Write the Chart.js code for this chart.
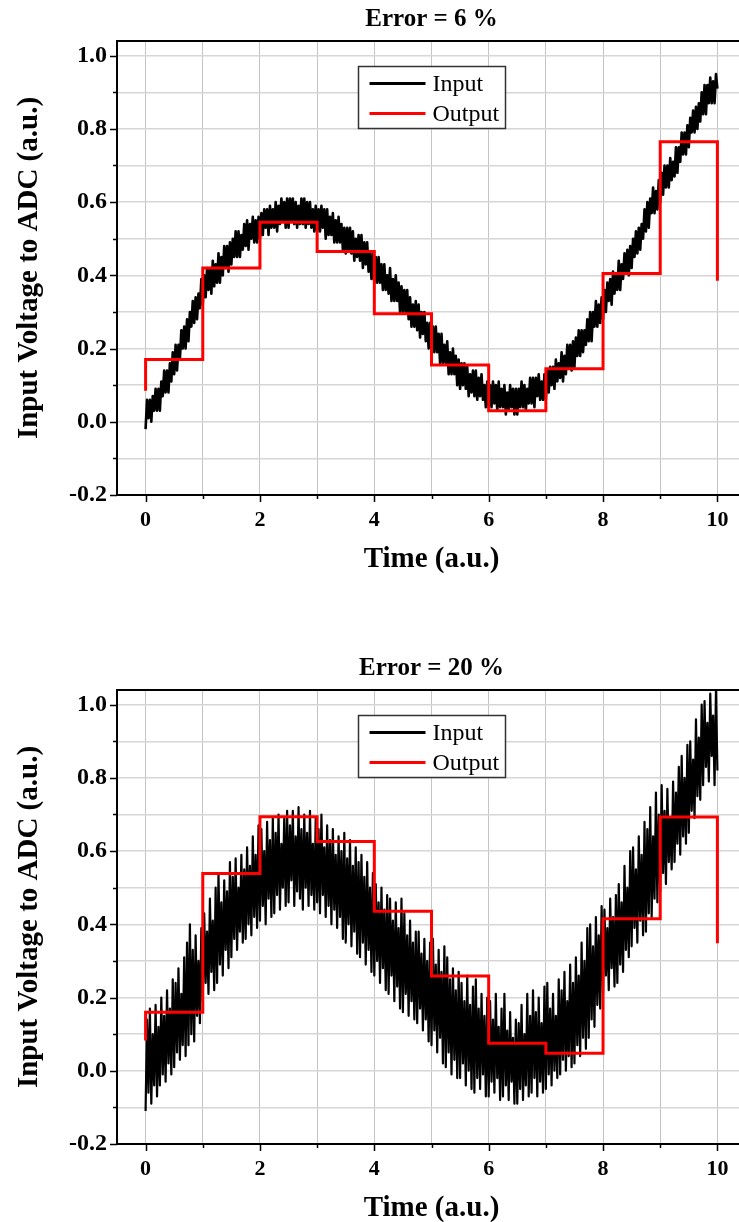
<!DOCTYPE html>
<html>
<head>
<meta charset="utf-8">
<script src="https://cdn.jsdelivr.net/npm/chart.js@4.4.1/dist/chart.umd.min.js"></script>
<style>
html, body { margin: 0; padding: 0; background: #fff; overflow: hidden; }
#page { position: relative; width: 739px; height: 1222px; overflow: hidden; }
.plot { position: absolute; left: 0; }
</style>
</head>
<body>
<div id="page">
  <canvas id="chartLow" class="plot" width="770" height="600" style="top:0"></canvas>
  <canvas id="chartHigh" class="plot" width="770" height="600" style="top:649px"></canvas>
</div>
<script>
// both inputs are sampled every 0.025 time units from 0 to 10
const sampleStep = 0.025;

// ADC input at 6 % error
const inputLow = [
  -0.02, 0.06, 0.01, 0.06, 0.00, 0.07, 0.03, 0.09, 0.03, 0.09,
  0.03, 0.11, 0.07, 0.14, 0.08, 0.14, 0.08, 0.16, 0.11, 0.19,
  0.13, 0.21, 0.14, 0.21, 0.17, 0.25, 0.20, 0.26, 0.20, 0.28,
  0.22, 0.30, 0.26, 0.33, 0.27, 0.34, 0.28, 0.35, 0.31, 0.39,
  0.32, 0.40, 0.34, 0.42, 0.36, 0.42, 0.35, 0.44, 0.37, 0.43,
  0.38, 0.46, 0.38, 0.45, 0.40, 0.48, 0.42, 0.48, 0.41, 0.49,
  0.43, 0.50, 0.45, 0.52, 0.45, 0.52, 0.45, 0.51, 0.47, 0.54,
  0.48, 0.55, 0.47, 0.54, 0.50, 0.56, 0.49, 0.55, 0.49, 0.56,
  0.50, 0.57, 0.51, 0.58, 0.53, 0.58, 0.51, 0.59, 0.53, 0.58,
  0.53, 0.60, 0.52, 0.59, 0.54, 0.61, 0.55, 0.60, 0.53, 0.61,
  0.53, 0.61, 0.55, 0.61, 0.54, 0.60, 0.53, 0.59, 0.54, 0.61,
  0.54, 0.61, 0.53, 0.60, 0.54, 0.60, 0.53, 0.58, 0.52, 0.59,
  0.52, 0.58, 0.52, 0.59, 0.53, 0.58, 0.50, 0.58, 0.51, 0.56,
  0.51, 0.57, 0.49, 0.55, 0.49, 0.56, 0.49, 0.54, 0.47, 0.53,
  0.46, 0.53, 0.47, 0.53, 0.46, 0.52, 0.44, 0.50, 0.45, 0.51,
  0.44, 0.51, 0.42, 0.49, 0.43, 0.49, 0.41, 0.46, 0.39, 0.46,
  0.38, 0.45, 0.38, 0.45, 0.38, 0.43, 0.36, 0.43, 0.36, 0.40,
  0.35, 0.42, 0.33, 0.39, 0.33, 0.40, 0.33, 0.38, 0.30, 0.37,
  0.30, 0.36, 0.30, 0.36, 0.28, 0.34, 0.26, 0.32, 0.26, 0.33,
  0.25, 0.32, 0.23, 0.30, 0.24, 0.30, 0.22, 0.27, 0.20, 0.27,
  0.19, 0.26, 0.19, 0.26, 0.19, 0.24, 0.16, 0.24, 0.16, 0.21,
  0.16, 0.22, 0.13, 0.19, 0.13, 0.20, 0.13, 0.18, 0.10, 0.17,
  0.09, 0.16, 0.10, 0.16, 0.09, 0.15, 0.07, 0.13, 0.08, 0.14,
  0.07, 0.14, 0.06, 0.12, 0.07, 0.13, 0.06, 0.10, 0.04, 0.11,
  0.04, 0.10, 0.04, 0.11, 0.05, 0.10, 0.03, 0.11, 0.04, 0.09,
  0.04, 0.10, 0.02, 0.08, 0.03, 0.10, 0.04, 0.09, 0.02, 0.09,
  0.02, 0.09, 0.04, 0.11, 0.04, 0.10, 0.03, 0.09, 0.05, 0.12,
  0.05, 0.12, 0.04, 0.12, 0.07, 0.13, 0.06, 0.11, 0.06, 0.13,
  0.06, 0.14, 0.08, 0.15, 0.10, 0.15, 0.09, 0.17, 0.11, 0.16,
  0.12, 0.19, 0.11, 0.18, 0.13, 0.21, 0.15, 0.21, 0.14, 0.22,
  0.15, 0.23, 0.18, 0.25, 0.18, 0.25, 0.19, 0.25, 0.21, 0.28,
  0.22, 0.30, 0.22, 0.30, 0.26, 0.33, 0.26, 0.32, 0.27, 0.34,
  0.28, 0.36, 0.30, 0.38, 0.33, 0.39, 0.32, 0.41, 0.35, 0.40,
  0.36, 0.44, 0.36, 0.43, 0.39, 0.46, 0.41, 0.47, 0.40, 0.48,
  0.42, 0.50, 0.45, 0.52, 0.46, 0.53, 0.47, 0.54, 0.50, 0.58,
  0.52, 0.60, 0.53, 0.61, 0.57, 0.64, 0.57, 0.63, 0.58, 0.66,
  0.60, 0.68, 0.62, 0.70, 0.64, 0.70, 0.64, 0.72, 0.66, 0.71,
  0.67, 0.75, 0.68, 0.75, 0.71, 0.79, 0.73, 0.79, 0.73, 0.81,
  0.75, 0.83, 0.79, 0.85, 0.79, 0.86, 0.80, 0.87, 0.82, 0.90,
  0.84, 0.92, 0.84, 0.92, 0.87, 0.94, 0.87, 0.93, 0.87, 0.95,
  0.91
];

// ADC input at 20 % error
const inputHigh = [
  -0.11, 0.14, -0.06, 0.17, -0.09, 0.10, -0.04, 0.18, -0.07, 0.12,
  -0.04, 0.20, -0.01, 0.15, -0.03, 0.22, 0.02, 0.17, -0.01, 0.25,
  0.01, 0.24, 0.05, 0.28, 0.03, 0.21, 0.07, 0.31, 0.04, 0.35,
  0.07, 0.40, 0.10, 0.33, 0.08, 0.37, 0.15, 0.30, 0.13, 0.39,
  0.19, 0.43, 0.24, 0.38, 0.21, 0.47, 0.27, 0.41, 0.22, 0.50,
  0.24, 0.54, 0.29, 0.46, 0.26, 0.52, 0.33, 0.49, 0.28, 0.57,
  0.31, 0.53, 0.36, 0.58, 0.33, 0.50, 0.38, 0.59, 0.35, 0.55,
  0.36, 0.61, 0.40, 0.56, 0.37, 0.64, 0.42, 0.59, 0.39, 0.67,
  0.41, 0.66, 0.45, 0.60, 0.40, 0.68, 0.47, 0.63, 0.42, 0.69,
  0.43, 0.65, 0.48, 0.70, 0.44, 0.62, 0.50, 0.69, 0.45, 0.71,
  0.46, 0.67, 0.52, 0.71, 0.45, 0.64, 0.49, 0.72, 0.47, 0.66,
  0.44, 0.70, 0.50, 0.65, 0.45, 0.71, 0.48, 0.62, 0.44, 0.69,
  0.46, 0.66, 0.43, 0.70, 0.48, 0.61, 0.42, 0.67, 0.45, 0.63,
  0.40, 0.66, 0.44, 0.59, 0.39, 0.64, 0.42, 0.60, 0.36, 0.65,
  0.35, 0.58, 0.40, 0.63, 0.34, 0.56, 0.38, 0.61, 0.32, 0.57,
  0.31, 0.59, 0.35, 0.53, 0.29, 0.57, 0.33, 0.50, 0.27, 0.54,
  0.26, 0.51, 0.30, 0.46, 0.24, 0.50, 0.28, 0.44, 0.22, 0.48,
  0.21, 0.47, 0.26, 0.41, 0.19, 0.46, 0.23, 0.39, 0.17, 0.47,
  0.16, 0.43, 0.21, 0.37, 0.15, 0.41, 0.19, 0.35, 0.14, 0.38,
  0.13, 0.38, 0.17, 0.32, 0.11, 0.36, 0.14, 0.30, 0.08, 0.35,
  0.07, 0.36, 0.11, 0.29, 0.05, 0.33, 0.09, 0.27, 0.02, 0.34,
  0.01, 0.31, 0.05, 0.25, -0.01, 0.28, 0.03, 0.22, -0.02, 0.27,
  -0.02, 0.24, 0.02, 0.19, -0.04, 0.26, 0.00, 0.18, -0.05, 0.23,
  -0.06, 0.25, -0.02, 0.17, -0.05, 0.21, -0.01, 0.15, -0.07, 0.20,
  -0.07, 0.19, -0.03, 0.14, -0.06, 0.21, -0.02, 0.12, -0.08, 0.17,
  -0.07, 0.21, -0.04, 0.11, -0.08, 0.16, -0.03, 0.09, -0.09, 0.14,
  -0.09, 0.13, -0.05, 0.18, -0.08, 0.10, -0.04, 0.21, -0.07, 0.15,
  -0.06, 0.22, -0.02, 0.16, -0.07, 0.20, -0.03, 0.13, -0.06, 0.23,
  -0.05, 0.24, -0.01, 0.17, -0.04, 0.21, 0.00, 0.15, -0.02, 0.25,
  -0.01, 0.22, 0.03, 0.27, 0.00, 0.19, 0.04, 0.29, 0.01, 0.24,
  0.02, 0.31, 0.07, 0.26, 0.04, 0.35, 0.09, 0.30, 0.06, 0.39,
  0.09, 0.40, 0.14, 0.34, 0.12, 0.42, 0.18, 0.37, 0.17, 0.45,
  0.21, 0.44, 0.26, 0.39, 0.22, 0.47, 0.28, 0.42, 0.23, 0.48,
  0.24, 0.51, 0.29, 0.46, 0.27, 0.56, 0.33, 0.50, 0.31, 0.60,
  0.34, 0.61, 0.39, 0.55, 0.35, 0.64, 0.41, 0.59, 0.37, 0.68,
  0.38, 0.66, 0.43, 0.72, 0.42, 0.64, 0.47, 0.76, 0.46, 0.70,
  0.49, 0.78, 0.54, 0.71, 0.51, 0.77, 0.57, 0.69, 0.55, 0.79,
  0.57, 0.76, 0.62, 0.83, 0.59, 0.86, 0.64, 0.80, 0.62, 0.89,
  0.65, 0.90, 0.71, 0.85, 0.69, 0.96, 0.75, 0.91, 0.74, 1.00,
  0.78, 1.01, 0.83, 0.95, 0.79, 1.03, 0.86, 0.97, 0.78, 1.04,
  0.82
];

// quantized ADC output: one level per unit interval
const stepTimes = [0, 1, 2, 3, 4, 5, 6, 7, 8, 9, 10];
const outputLow = [0.17, 0.42, 0.545, 0.465, 0.295, 0.155, 0.03, 0.145, 0.405, 0.765];
const outputLowStart = 0.085;
const outputLowEnd = 0.385;
const outputHigh = [0.16, 0.539, 0.694, 0.626, 0.436, 0.259, 0.075, 0.048, 0.415, 0.693];
const outputHighStart = 0.083;
const outputHighEnd = 0.348;

const xTicks = [0, 1, 2, 3, 4, 5, 6, 7, 8, 9, 10];
const yTicks = [-0.2, -0.1, 0, 0.1, 0.2, 0.3, 0.4, 0.5, 0.6, 0.7, 0.8, 0.9, 1.0];

const serif = '"Liberation Serif", "Times New Roman", serif';

function samplePoints(values) {
  return values.map((v, i) => ({ x: +(i * sampleStep).toFixed(3), y: v }));
}

function stepPoints(levels, start, end) {
  const last = stepTimes[stepTimes.length - 1];
  const pts = [{ x: stepTimes[0], y: start }];
  levels.forEach((v, i) => pts.push({ x: stepTimes[i], y: v }));
  pts.push({ x: last, y: levels[levels.length - 1] });
  pts.push({ x: last, y: end });
  return pts;
}

const isMajorY = v => Math.abs(v * 5 - Math.round(v * 5)) < 1e-6;
const isMajorX = v => v % 2 === 0;

// top edge of the frame, outward tick marks and the boxed legend
const framePlugin = {
  id: 'framePlugin',
  afterDraw(chart) {
    const { ctx, chartArea: a } = chart;
    const x = chart.scales.x, y = chart.scales.y;
    ctx.save();
    ctx.strokeStyle = '#000';
    ctx.lineWidth = 2;
    ctx.beginPath();
    ctx.moveTo(a.left, a.top);
    ctx.lineTo(a.right, a.top);
    ctx.lineTo(a.right, a.bottom);
    ctx.stroke();

    ctx.lineWidth = 1.5;
    ctx.beginPath();
    yTicks.forEach(v => {
      const py = Math.round(y.getPixelForValue(v)) + 0.5;
      ctx.moveTo(a.left, py);
      ctx.lineTo(a.left - (isMajorY(v) ? 7 : 4), py);
    });
    xTicks.forEach(v => {
      const px = Math.round(x.getPixelForValue(v)) + 0.5;
      ctx.moveTo(px, a.bottom);
      ctx.lineTo(px, a.bottom + (isMajorX(v) ? 7 : 4));
    });
    ctx.stroke();

    // legend box
    const bw = 147, bh = 62;
    const bx = Math.round((a.left + a.right) / 2 - bw / 2) + 0.5;
    const by = a.top + 25.5;
    ctx.fillStyle = '#fff';
    ctx.fillRect(bx, by, bw, bh);
    ctx.strokeStyle = '#333';
    ctx.lineWidth = 1.5;
    ctx.strokeRect(bx, by, bw, bh);
    ctx.font = '24px ' + serif;
    ctx.textBaseline = 'middle';
    ctx.textAlign = 'left';
    const entries = chart.data.datasets.slice().sort((p, q) => q.order - p.order);
    entries.forEach((ds, i) => {
      const ry = by + 17 + i * 30;
      ctx.strokeStyle = ds.borderColor;
      ctx.lineWidth = 3;
      ctx.beginPath();
      ctx.moveTo(bx + 11, ry);
      ctx.lineTo(bx + 67, ry);
      ctx.stroke();
      ctx.fillStyle = '#000';
      ctx.fillText(ds.label, bx + 74, ry + 1);
    });
    ctx.restore();
  }
};

function makeChart(id, title, input, levels, start, end, inputWidth) {
  return new Chart(document.getElementById(id), {
    type: 'line',
    data: {
      datasets: [
        {
          label: 'Input',
          data: samplePoints(input),
          borderColor: '#000',
          borderWidth: inputWidth,
          borderJoinStyle: 'round',
          pointRadius: 0,
          tension: 0,
          order: 2
        },
        {
          label: 'Output',
          data: stepPoints(levels, start, end),
          borderColor: '#ff0000',
          borderWidth: 3,
          pointRadius: 0,
          stepped: 'before',
          order: 1
        }
      ]
    },
    options: {
      responsive: false,
      animation: false,
      layout: { padding: { top: 0, left: 0, right: 24, bottom: 0 } },
      plugins: {
        legend: { display: false },
        tooltip: { enabled: false },
        title: {
          display: true,
          text: title,
          fullSize: false,
          color: '#000',
          font: { family: serif, size: 25, weight: 'bold' },
          padding: { top: 5, bottom: 6 }
        }
      },
      scales: {
        x: {
          type: 'linear',
          min: -0.5,
          max: 10.5,
          afterBuildTicks: s => { s.ticks = xTicks.map(v => ({ value: v })); },
          afterFit: s => { s.height = 105; },
          grid: { color: '#c4c4c4', lineWidth: 1, drawTicks: false },
          border: { color: '#000', width: 2 },
          ticks: {
            color: '#000',
            padding: 12,
            maxRotation: 0,
            font: { family: serif, size: 22, weight: 'bold' },
            callback: v => (isMajorX(v) ? String(v) : '')
          },
          title: {
            display: true,
            text: 'Time (a.u.)',
            color: '#000',
            font: { family: serif, size: 29, weight: 'bold' },
            padding: { top: 0, bottom: 23 }
          }
        },
        y: {
          type: 'linear',
          min: -0.2,
          max: 1.04,
          afterBuildTicks: s => { s.ticks = yTicks.map(v => ({ value: v })); },
          afterFit: s => { s.width = 117; },
          grid: { color: '#d6d6d6', lineWidth: 1.5, drawTicks: false },
          border: { color: '#000', width: 2 },
          ticks: {
            color: '#000',
            padding: 10,
            font: { family: serif, size: 24, weight: 'bold' },
            callback: v => (isMajorY(v) ? v.toFixed(1) : '')
          },
          title: {
            display: true,
            text: 'Input Voltage to ADC (a.u.)',
            color: '#000',
            font: { family: serif, size: 29, weight: 'bold' },
            padding: { top: 12, bottom: 0 }
          }
        }
      }
    },
    plugins: [framePlugin]
  });
}

makeChart('chartLow', 'Error = 6 %', inputLow, outputLow, outputLowStart, outputLowEnd, 2.6);
makeChart('chartHigh', 'Error = 20 %', inputHigh, outputHigh, outputHighStart, outputHighEnd, 2.2);
</script>
</body>
</html>
